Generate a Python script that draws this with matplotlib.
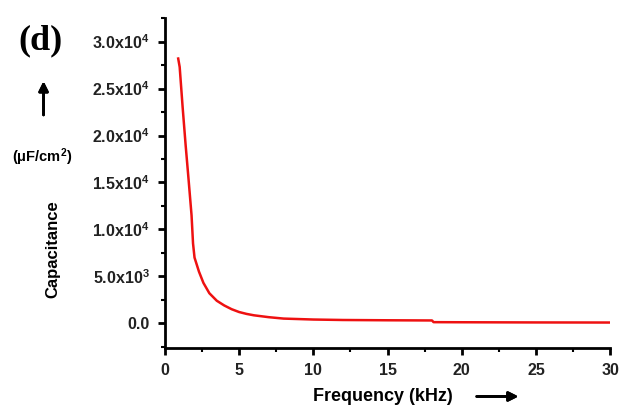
import numpy as np
import matplotlib
matplotlib.use("Agg")
import matplotlib.pyplot as plt
import matplotlib.ticker as mticker

# Capacitance vs frequency
freq = [0.9, 1.0, 1.2, 1.4, 1.6, 1.8, 1.9, 2.0, 2.3, 2.6, 3.0, 3.5, 4.0, 4.5, 5.0, 5.5,
        6.0, 7.0, 8.0, 10.0, 12.0, 15.0, 18.0, 18.1, 20.0, 25.0, 30.0]
cap = [28200, 27300, 23000, 19000, 15300, 11500, 8500, 7000, 5500, 4300, 3200, 2400,
       1900, 1500, 1200, 1000, 850, 650, 500, 400, 350, 320, 300, 120, 110, 90, 80]

yticks = [0, 5000, 10000, 15000, 20000, 25000, 30000]
ytick_labels = ["0.0", r"5.0x10$^3$", r"1.0x10$^4$", r"1.5x10$^4$",
                r"2.0x10$^4$", r"2.5x10$^4$", r"3.0x10$^4$"]
xticks = [0, 5, 10, 15, 20, 25, 30]

plt.rcParams["font.family"] = ["Liberation Sans", "DejaVu Sans"]
plt.rcParams["mathtext.fontset"] = "custom"
plt.rcParams["mathtext.rm"] = "Liberation Sans:bold"
plt.rcParams["mathtext.default"] = "rm"

fig = plt.figure(figsize=(6.22, 4.13), dpi=100)
ax = fig.add_axes([0.265, 0.157, 0.716, 0.799])

ax.plot(freq, cap, color="#ee1111", linewidth=1.8)

ax.set_xlim(0, 30)
ax.set_ylim(-2650, 32500)
ax.set_xticks(xticks)
ax.set_yticks(yticks)
ax.set_yticklabels(ytick_labels)
ax.xaxis.set_minor_locator(mticker.MultipleLocator(2.5))
ax.yaxis.set_minor_locator(mticker.MultipleLocator(2500))

for s in ["top", "right"]:
    ax.spines[s].set_visible(False)
for s in ["left", "bottom"]:
    ax.spines[s].set_linewidth(2)

ax.tick_params(which="major", length=5, width=2, labelsize=11.5, pad=6)
ax.tick_params(which="minor", length=3, width=1.5)
for lab in ax.get_xticklabels() + ax.get_yticklabels():
    lab.set_fontweight("bold")
    lab.set_color("#222222")

ax.set_xlabel("Frequency (kHz)", fontsize=13, fontweight="bold")
ax.xaxis.set_label_coords(0.49, -0.12)
ax.set_ylabel("Capacitance", fontsize=12, fontweight="bold")
ax.yaxis.set_label_coords(-0.235, 0.3)

# side annotations
fig.text(0.065, 0.9, "(d)", fontsize=26, fontweight="bold", family="Liberation Serif",
         ha="center", va="center")
fig.text(0.068, 0.62, "(\u03bcF/cm$^2$)", fontsize=10.5, fontweight="bold",
         ha="center", va="center")
fig.add_artist(plt.annotate("", xy=(0.07, 0.81), xytext=(0.07, 0.715),
                            xycoords="figure fraction", textcoords="figure fraction",
                            arrowprops=dict(arrowstyle="-|>", color="black", lw=2,
                                            mutation_scale=14)))
fig.add_artist(plt.annotate("", xy=(0.838, 0.04), xytext=(0.762, 0.04),
                            xycoords="figure fraction", textcoords="figure fraction",
                            arrowprops=dict(arrowstyle="-|>", color="black", lw=2,
                                            mutation_scale=14)))

fig.savefig("out.png", dpi=100)
